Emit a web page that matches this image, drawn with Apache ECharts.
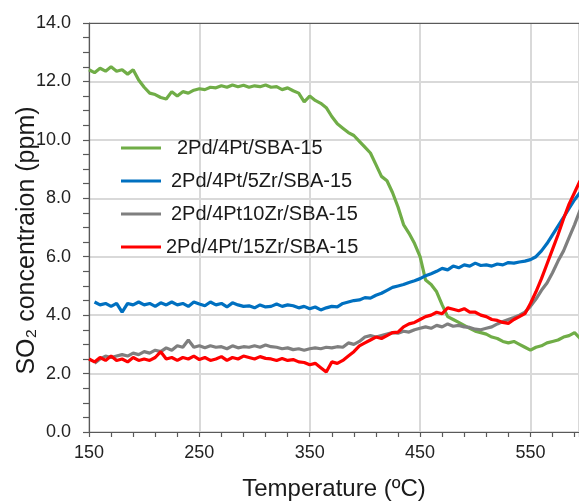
<!DOCTYPE html>
<html>
<head>
<meta charset="utf-8">
<script src="https://cdn.jsdelivr.net/npm/echarts@6/dist/echarts.min.js"></script>
<style>html,body{margin:0;padding:0;background:#fff;}#c{width:579px;height:503px;}</style>
</head>
<body>
<div id="c"></div>
<script>
const temps = [150,155,160,165,170,175,180,185,190,195,200,205,210,215,220,225,230,235,240,245,250,255,260,265,270,275,280,285,290,295,300,305,310,315,320,325,330,335,340,345,350,355,360,365,370,375,380,385,390,395,400,405,410,415,420,425,430,435,440,445,450,455,460,465,470,475,480,485,490,495,500,505,510,515,520,525,530,535,540,545,550,555,560,565,570,575,580,585,590,595];

const seriesNames = ['2Pd/4Pt/SBA-15','2Pd/4Pt/5Zr/SBA-15','2Pd/4Pt10Zr/SBA-15','2Pd/4Pt/15Zr/SBA-15'];

const pdPt = [12.4,12.3,12.45,12.35,12.5,12.35,12.4,12.25,12.4,12.05,11.8,11.6,11.55,11.45,11.4,11.65,11.5,11.65,11.6,11.7,11.75,11.72,11.8,11.78,11.85,11.8,11.88,11.82,11.87,11.8,11.85,11.82,11.88,11.8,11.82,11.72,11.78,11.68,11.6,11.3,11.5,11.35,11.25,11.1,10.8,10.55,10.4,10.25,10.15,9.95,9.75,9.55,9.15,8.75,8.6,8.2,7.7,7.1,6.8,6.45,6.0,5.2,5.05,4.8,4.35,3.95,3.85,3.75,3.65,3.55,3.45,3.4,3.35,3.25,3.2,3.1,3.05,3.1,3.0,2.9,2.8,2.9,2.95,3.05,3.1,3.15,3.25,3.3,3.4,3.2];

const pdPt5Zr = [null,4.45,4.35,4.4,4.3,4.4,4.1,4.4,4.35,4.45,4.35,4.4,4.3,4.42,4.35,4.45,4.35,4.4,4.3,4.45,4.38,4.32,4.45,4.35,4.4,4.28,4.42,4.35,4.3,4.32,4.25,4.35,4.28,4.3,4.38,4.3,4.35,4.32,4.25,4.3,4.22,4.28,4.18,4.25,4.3,4.28,4.4,4.45,4.5,4.52,4.6,4.58,4.68,4.75,4.85,4.95,5.0,5.05,5.12,5.18,5.25,5.35,5.42,5.5,5.6,5.55,5.68,5.62,5.72,5.68,5.78,5.7,5.72,5.68,5.75,5.72,5.8,5.78,5.82,5.85,5.9,6.0,6.2,6.45,6.75,7.05,7.35,7.65,7.95,8.2];

const pdPt10Zr = [null,2.35,2.5,2.6,2.55,2.6,2.65,2.6,2.7,2.65,2.75,2.7,2.8,2.75,2.88,2.8,2.95,2.9,3.15,2.9,2.95,2.88,2.95,2.9,2.92,2.85,2.95,2.88,2.92,2.9,2.95,2.9,2.98,2.92,2.9,2.85,2.88,2.82,2.85,2.8,2.85,2.88,2.85,2.9,2.88,2.92,2.9,3.05,3.0,3.1,3.25,3.3,3.25,3.3,3.35,3.4,3.38,3.45,3.42,3.5,3.55,3.6,3.55,3.65,3.6,3.7,3.62,3.65,3.6,3.58,3.52,3.5,3.55,3.6,3.7,3.78,3.85,3.92,4.0,4.1,4.3,4.55,4.85,5.1,5.45,5.85,6.2,6.65,7.1,7.6];

const pdPt15Zr = [2.5,2.4,2.55,2.45,2.6,2.45,2.5,2.4,2.55,2.45,2.5,2.45,2.55,2.75,2.5,2.55,2.45,2.55,2.5,2.6,2.48,2.55,2.45,2.5,2.58,2.45,2.55,2.5,2.6,2.55,2.5,2.58,2.52,2.5,2.45,2.52,2.45,2.48,2.4,2.38,2.3,2.35,2.2,2.05,2.4,2.35,2.45,2.6,2.75,2.95,3.05,3.15,3.25,3.2,3.3,3.4,3.42,3.6,3.7,3.75,3.85,3.95,4.0,4.1,4.05,4.25,4.2,4.15,4.22,4.1,4.1,4.0,3.95,3.85,3.82,3.75,3.72,3.85,3.95,4.05,4.4,4.8,5.25,5.75,6.25,6.75,7.3,7.8,8.2,8.6];

const colors = ['#70AD47','#0070C0','#7F7F7F','#FF0000'];
const allValues = [pdPt, pdPt5Zr, pdPt10Zr, pdPt15Zr];

const FONT = '"Liberation Sans", Arial, sans-serif';
const chart = echarts.init(document.getElementById('c'), null, {renderer:'canvas'});
const legendPad = [11, 5, 5, 0];

chart.setOption({
  animation: false,
  textStyle: {fontFamily: FONT},
  grid: {left: 89, top: 23, right: 0, bottom: 71, containLabel: false, outerBoundsMode: 'none'},
  legend: {
    orient: 'vertical', left: 116, top: 133,
    itemWidth: 40, itemHeight: 20, itemGap: 13,
    icon: 'path://M0,0 L40,0 L40,3 L0,3 Z',
    formatter: function(name){ return '{t' + seriesNames.indexOf(name) + '|' + name + '}'; },
    data: seriesNames,
    textStyle: {
      fontSize: 20, color: '#1a1a1a', fontFamily: FONT,
      rich: {
        t0: {fontSize: 20, fontFamily: FONT, color:'#1a1a1a', padding:[0,0,0,legendPad[0]]},
        t1: {fontSize: 20, fontFamily: FONT, color:'#1a1a1a', padding:[0,0,0,legendPad[1]]},
        t2: {fontSize: 20, fontFamily: FONT, color:'#1a1a1a', padding:[0,0,0,legendPad[2]]},
        t3: {fontSize: 20, fontFamily: FONT, color:'#1a1a1a', padding:[0,0,0,legendPad[3]]}
      }
    }
  },
  xAxis: [{
    type: 'value', min: 150, max: 594, interval: 20, position: 'bottom',
    name: 'Temperature (ºC)', nameLocation: 'middle', nameGap: 45, nameMoveOverlap: false,
    nameTextStyle: {fontSize: 24, color: '#1a1a1a', fontFamily: FONT},
    axisLine: {show: true, lineStyle: {color: '#595959', width: 1.2}},
    axisTick: {show: true, inside: false, length: 5, lineStyle: {color: '#595959', width: 1.2}},
    axisLabel: {fontSize: 18, color: '#222', margin: 12, fontFamily: FONT,
      formatter: function(v){ return ((v - 150) % 100 === 0) ? String(v) : ''; }},
    splitLine: {show: false}
  },{
    type: 'value', min: 150, max: 594, interval: 100, position: 'top',
    axisLine: {show: true, onZero: false, lineStyle: {color: '#595959', width: 1.2}},
    axisTick: {show: false}, axisLabel: {show: false},
    splitLine: {show: true, lineStyle: {color: '#D9D9D9', width: 2}}
  }],
  yAxis: {
    type: 'value', min: 0, max: 14, interval: 2,
    name: 'SO₂ concentraion (ppm)', nameLocation: 'middle', nameGap: 49, nameMoveOverlap: false,
    nameTextStyle: {fontSize: 25, color: '#1a1a1a', fontFamily: FONT, padding: [0, 26, 0, 0]},
    axisLine: {show: true, lineStyle: {color: '#595959', width: 1.2}},
    axisTick: {show: true, inside: false, length: 6, lineStyle: {color: '#595959', width: 1.2}},
    minorTick: {show: true, splitNumber: 4, length: 6, lineStyle: {color: '#595959', width: 1.2}},
    axisLabel: {fontSize: 18, color: '#222', margin: 18, fontFamily: FONT,
      formatter: function(v){ return v.toFixed(1); }},
    splitLine: {show: true, lineStyle: {color: '#D9D9D9', width: 2}}
  },
  series: seriesNames.map(function(n, i){
    return {
      name: n, type: 'line', xAxisIndex: 0, showSymbol: false, symbol: 'none',
      color: colors[i], lineStyle: {width: 3.2, color: colors[i]},
      data: temps.map(function(t, k){ return [t, allValues[i][k]]; }),
      connectNulls: false, clip: true
    };
  })
});
</script>
</body>
</html>
